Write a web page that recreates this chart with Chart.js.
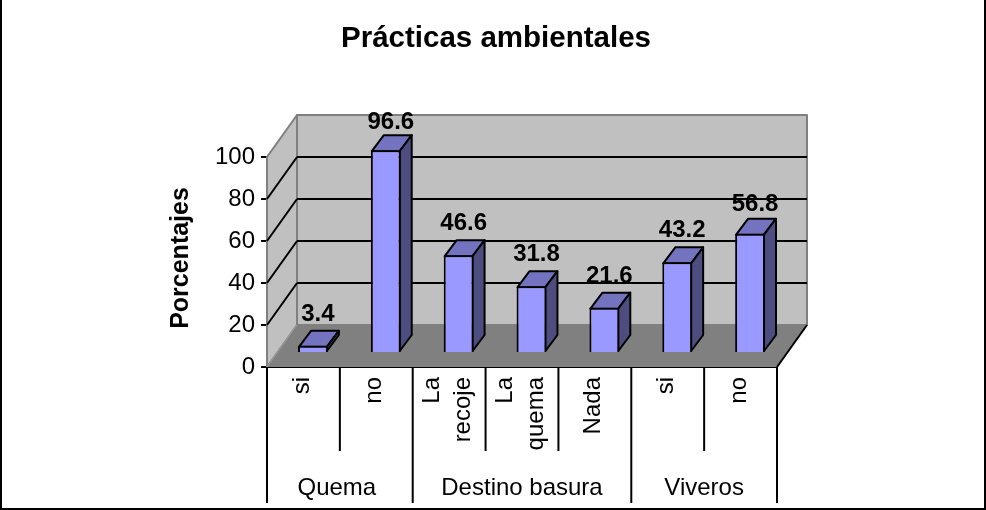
<!DOCTYPE html>
<html><head><meta charset="utf-8">
<style>html,body{margin:0;padding:0;background:#fff}canvas{display:block}#w{width:986px;height:510px}</style>
<script src="https://cdn.jsdelivr.net/npm/chart.js@4"></script>
</head><body><div id="w"><canvas id="c" width="986" height="510"></canvas></div>
<script>
const categories = [["si"],["no"],["La","recoje"],["La","quema"],["Nada"],["si"],["no"]];
const values = [3.4,96.6,46.6,31.8,21.6,43.2,56.8];
const groups = ["Quema","Destino basura","Viveros"];
const groupSpans = [[0,1],[2,4],[5,6]];
const yTicks = [0,20,40,60,80,100];
const FONT = '"Liberation Sans", Arial, sans-serif';
const DX = 30, DY = -42, BX = 9.5, BY = -14, TX = 12, TY = -16;
const LW = 2;

function poly(ctx, pts, fill, stroke, lw){
  ctx.beginPath();
  pts.forEach((p,i)=> i?ctx.lineTo(p[0],p[1]):ctx.moveTo(p[0],p[1]));
  ctx.closePath();
  if(fill){ctx.fillStyle=fill;ctx.fill();}
  if(stroke){ctx.strokeStyle=stroke;ctx.lineWidth=lw;ctx.lineJoin='round';ctx.stroke();}
}
function line(ctx,x1,y1,x2,y2,c,w){ctx.beginPath();ctx.moveTo(x1,y1);ctx.lineTo(x2,y2);ctx.strokeStyle=c;ctx.lineWidth=w;ctx.stroke();}

const chart3d = {
  id:'chart3d',
  beforeDatasetsDraw(chart){
    const {ctx,scales:{x,y}} = chart;
    const L=x.left,R=x.right,B=y.getPixelForValue(0),T=y.getPixelForValue(100);
    ctx.save();
    poly(ctx,[[L+DX,T+DY],[R+DX,T+DY],[R+DX,B+DY],[L+DX,B+DY]],'#C0C0C0','#808080',2);
    poly(ctx,[[L,T],[L+DX,T+DY],[L+DX,B+DY],[L,B]],'#C0C0C0','#808080',2);
    poly(ctx,[[L,B],[L+DX,B+DY],[R+DX,B+DY],[R,B]],'#808080');
    line(ctx,L,B,L+DX,B+DY,'#A0A0A0',1);
    line(ctx,R,B,R+DX,B+DY,'#000',LW);
    yTicks.forEach(v=>{
      if(v===0||v===100) return;
      const p=y.getPixelForValue(v);
      line(ctx,L+DX,p+DY,R+DX,p+DY,'#000',LW);
      line(ctx,L,p,L+DX,p+DY,'#000',LW);
    });
    ctx.restore();
    ctx.save();
    ctx.translate(BX,BY);
    chart.getDatasetMeta(0).data.forEach(b=>{
      const l=b.x-b.width/2+1,r=b.x+b.width/2-1,t=b.y+1,bt=b.base-1;
      poly(ctx,[[l,t],[l+TX,t+TY],[r+TX,t+TY],[r,t]],'#7373BF','#000',LW);
      poly(ctx,[[r,t],[r+TX,t+TY],[r+TX,bt+TY],[r,bt]],'#4D4D80','#000',LW);
    });
  },
  afterDatasetsDraw(chart){
    const {ctx,scales:{x,y}} = chart;
    ctx.restore();
    ctx.save();
    ctx.font='bold 24px '+FONT;ctx.fillStyle='#000';ctx.textAlign='center';ctx.textBaseline='alphabetic';
    chart.getDatasetMeta(0).data.forEach((b,i)=>{
      const gap = values[i]>90 ? 21 : values[i]>50 ? 23 : 25;
      ctx.fillText(values[i].toFixed(1),b.x+BX+5,b.y+BY-gap);
    });
    const B=y.getPixelForValue(0);
    const step=(x.right-x.left)/categories.length;
    groupSpans.forEach((s,gi)=>{
      const gl=x.getPixelForTick(s[0])-step/2, gr=x.getPixelForTick(s[1])+step/2;
      line(ctx,gl,B,gl,503,'#000',LW);
      if(gi===groupSpans.length-1) line(ctx,gr,B,gr,503,'#000',LW);
      ctx.font='24px '+FONT;ctx.textAlign='center';ctx.textBaseline='alphabetic';ctx.fillStyle='#000';
      ctx.fillText(groups[gi],(gl+gr)/2-(gi===0?3:0),495);
      for(let i=s[0];i<s[1];i++){const p=x.getPixelForTick(i)+step/2;line(ctx,p,B,p,451,'#000',LW);}
    });
    categories.forEach((lines,i)=>{
      const p=x.getPixelForTick(i);
      lines.forEach((t,j)=>{
        ctx.save();
        ctx.translate(p+(j-(lines.length-1)/2)*31-1.5,377);
        ctx.rotate(-Math.PI/2);
        ctx.font='24px '+FONT;ctx.textAlign='right';ctx.textBaseline='middle';ctx.fillStyle='#000';
        ctx.fillText(t,0,0);
        ctx.restore();
      });
    });
    ctx.save();
    ctx.translate(181,258);
    ctx.rotate(-Math.PI/2);
    ctx.font='bold 25px '+FONT;ctx.textAlign='center';ctx.textBaseline='middle';ctx.fillStyle='#000';
    ctx.fillText('Porcentajes',0,0);
    ctx.restore();
    ctx.restore();
  },
  afterDraw(chart){
    const {ctx,width,height}=chart;
    ctx.save();
    line(ctx,1,0,1,height,'#000',2);
    line(ctx,width-1,0,width-1,height,'#000',2);
    line(ctx,0,height-1,width,height-1,'#000',2);
    ctx.restore();
  }
};

new Chart(document.getElementById('c'),{
  type:'bar',
  data:{labels:categories,datasets:[{data:values,backgroundColor:'#9999FF',borderColor:'#000',borderWidth:2,barPercentage:0.41,categoryPercentage:1,clip:false}]},
  plugins:[chart3d],
  options:{
    responsive:false,animation:false,
    layout:{padding:{left:6}},
    plugins:{
      legend:{display:false},tooltip:{enabled:false},
      title:{display:true,text:'Prácticas ambientales',color:'#000',font:{family:FONT,size:29.5,weight:'bold',lineHeight:1.2},padding:{top:21.5,bottom:100.1}}
    },
    scales:{
      x:{type:'category',offset:true,grid:{display:false},border:{display:true,color:'#000',width:2},ticks:{display:false},
         afterFit(s){s.height=143;}},
      y:{min:0,max:100,position:'left',
         ticks:{stepSize:20,color:'#000',padding:6,font:{family:FONT,size:24}},
         grid:{drawOnChartArea:false,drawTicks:true,tickLength:6,color:'#000',lineWidth:2},
         border:{display:true,color:'#000',width:2},
         afterFit(s){s.width=261;}},
      y2:{position:'right',display:true,min:0,max:100,ticks:{display:false},grid:{display:false},border:{display:false},afterFit(s){s.width=209;}}
    }
  }
});
</script></body></html>
